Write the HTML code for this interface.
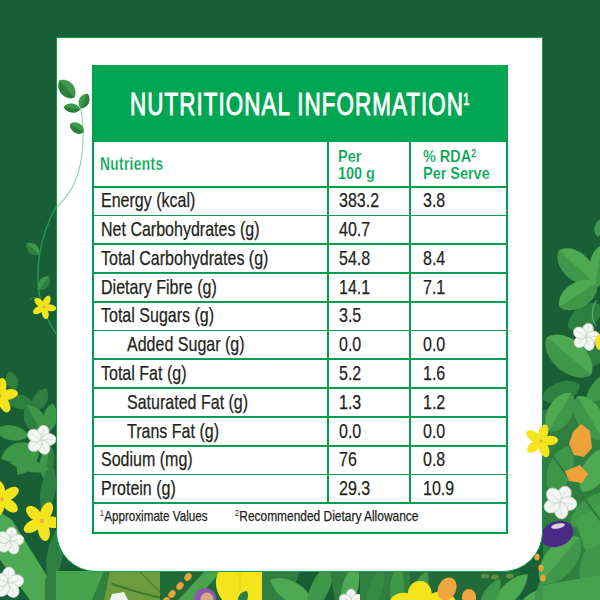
<!DOCTYPE html>
<html><head><meta charset="utf-8"><style>
html,body{margin:0;padding:0;}
body{width:600px;height:600px;overflow:hidden;position:relative;background:#185F36;font-family:"Liberation Sans",sans-serif;}
.bg{position:absolute;left:0;top:0;width:600px;height:600px;}
.panel{position:absolute;left:56px;top:37px;width:485px;height:533px;background:#fff;border:1px solid #0A9A45;border-radius:0 0 40px 40px;}
.hdr{position:absolute;left:92px;top:65px;width:416px;height:76.5px;background:#00A651;}
.title{position:absolute;left:129.8px;top:88.31px;font-size:32px;line-height:32px;color:#fff;white-space:nowrap;transform:scaleX(0.70);transform-origin:0 0;-webkit-text-stroke:1.0px #fff;letter-spacing:1.5px;}
.title sup{font-size:16px;vertical-align:0;position:relative;top:-10.5px;margin-left:-1px;-webkit-text-stroke:0.7px #fff;}
.t{position:absolute;white-space:nowrap;line-height:1;transform-origin:0 0;-webkit-text-stroke:0.25px #231F20;}
.t sup{font-size:60%;vertical-align:0;position:relative;top:-0.45em;font-weight:normal;-webkit-text-stroke:0.3px #00A651;}
.t sup.fn{font-size:58%;top:-0.62em;-webkit-text-stroke:0;margin-right:0.5px}
.hl{position:absolute;left:92px;width:416px;height:1.8px;background:#00A04E;}
.vl{position:absolute;width:1.9px;background:#00A04E;}
</style></head><body>
<svg class="bg" width="600" height="600" viewBox="0 0 600 600">
<path d="M57,205 C44,228 37,255 38,282 C39,305 48,322 57,335" fill="none" stroke="#2A9550" stroke-width="1.5" stroke-linecap="round"/>
<path transform="translate(33,249) rotate(42)" d="M-8.5,0 C-4.2,-6.7 4.2,-6.7 8.5,0 C4.2,6.7 -4.2,6.7 -8.5,0Z" fill="#3F9749"/>
<path transform="translate(33,249) rotate(42)" d="M-8.5,0 C-4.2,6.7 4.2,6.7 8.5,0Z" fill="#2F8040"/>
<path transform="translate(44,283) rotate(-55)" d="M-8.5,0 C-4.2,-6.7 4.2,-6.7 8.5,0 C4.2,6.7 -4.2,6.7 -8.5,0Z" fill="#3F9749"/>
<path transform="translate(44,283) rotate(-55)" d="M-8.5,0 C-4.2,6.7 4.2,6.7 8.5,0Z" fill="#2F8040"/>
<path d="M30,300 C33,296 38,297 40,301" fill="none" stroke="#3A9A4A" stroke-width="0.8" stroke-linecap="round"/>
<g transform="translate(44,307) rotate(25)"><path transform="rotate(0)" d="M0,0" fill="none"/><ellipse transform="rotate(0) translate(0,-6.3)" rx="3.4" ry="6.0" fill="#F4E41B"/><path transform="rotate(72)" d="M0,0" fill="none"/><ellipse transform="rotate(72) translate(0,-6.3)" rx="3.4" ry="6.0" fill="#F4E41B"/><path transform="rotate(144)" d="M0,0" fill="none"/><ellipse transform="rotate(144) translate(0,-6.3)" rx="3.4" ry="6.0" fill="#F4E41B"/><path transform="rotate(216)" d="M0,0" fill="none"/><ellipse transform="rotate(216) translate(0,-6.3)" rx="3.4" ry="6.0" fill="#F4E41B"/><path transform="rotate(288)" d="M0,0" fill="none"/><ellipse transform="rotate(288) translate(0,-6.3)" rx="3.4" ry="6.0" fill="#F4E41B"/><circle r="3.2" fill="#F4E41B"/><circle r="1.2" fill="#EDA43C"/></g>
<path transform="translate(12,381) rotate(70)" d="M-10.0,0 C-5.0,-8.0 5.0,-8.0 10.0,0 C5.0,8.0 -5.0,8.0 -10.0,0Z" fill="#2F8040"/>
<path transform="translate(20,402) rotate(10)" d="M-14.0,0 C-7.0,-9.3 7.0,-9.3 14.0,0 C7.0,9.3 -7.0,9.3 -14.0,0Z" fill="#2F8040"/>
<path transform="translate(18,452) rotate(-20)" d="M-18.0,0 C-9.0,-12.0 9.0,-12.0 18.0,0 C9.0,12.0 -9.0,12.0 -18.0,0Z" fill="#3F9749"/>
<path transform="translate(40,400) rotate(-60)" d="M-13.0,0 C-6.5,-9.3 6.5,-9.3 13.0,0 C6.5,9.3 -6.5,9.3 -13.0,0Z" fill="#2F8040"/>
<path transform="translate(12,433) rotate(10)" d="M-17.0,0 C-8.5,-10.0 8.5,-10.0 17.0,0 C8.5,10.0 -8.5,10.0 -17.0,0Z" fill="#3F9749"/>
<path transform="translate(35,420) rotate(60)" d="M-17.0,0 C-8.5,-13.3 8.5,-13.3 17.0,0 C8.5,13.3 -8.5,13.3 -17.0,0Z" fill="#3F9749"/>
<path transform="translate(35,420) rotate(60)" d="M-17.0,0 C-8.5,13.3 8.5,13.3 17.0,0Z" fill="#2F8040"/>
<path transform="translate(50,418) rotate(-80)" d="M-15.0,0 C-7.5,-9.3 7.5,-9.3 15.0,0 C7.5,9.3 -7.5,9.3 -15.0,0Z" fill="#3F9749"/>
<path transform="translate(28,460) rotate(-55)" d="M-18.0,0 C-9.0,-10.6 9.0,-10.6 18.0,0 C9.0,10.6 -9.0,10.6 -18.0,0Z" fill="#3F9749"/>
<path transform="translate(47,462) rotate(-80)" d="M-17.0,0 C-8.5,-9.3 8.5,-9.3 17.0,0 C8.5,9.3 -8.5,9.3 -17.0,0Z" fill="#3F9749"/>
<path transform="translate(47,462) rotate(-80)" d="M-17.0,0 C-8.5,9.3 8.5,9.3 17.0,0Z" fill="#2F8040"/>
<g transform="translate(0,396) rotate(8)"><path transform="rotate(0)" d="M0,0" fill="none"/><ellipse transform="rotate(0) translate(0,-9.4)" rx="5.1" ry="8.8" fill="#F4E41B"/><path transform="rotate(72)" d="M0,0" fill="none"/><ellipse transform="rotate(72) translate(0,-9.4)" rx="5.1" ry="8.8" fill="#F4E41B"/><path transform="rotate(144)" d="M0,0" fill="none"/><ellipse transform="rotate(144) translate(0,-9.4)" rx="5.1" ry="8.8" fill="#F4E41B"/><path transform="rotate(216)" d="M0,0" fill="none"/><ellipse transform="rotate(216) translate(0,-9.4)" rx="5.1" ry="8.8" fill="#F4E41B"/><path transform="rotate(288)" d="M0,0" fill="none"/><ellipse transform="rotate(288) translate(0,-9.4)" rx="5.1" ry="8.8" fill="#F4E41B"/><circle r="4.8" fill="#F4E41B"/><circle r="1.7" fill="#EDA43C"/></g>
<g transform="translate(41,440) rotate(15)"><path transform="rotate(0.0)" d="M0,0" fill="none"/><ellipse transform="rotate(0.0) translate(0,-7.8)" rx="6.0" ry="7.2" fill="#F3F6F3" stroke="#BFD0C3" stroke-width="0.8"/><path transform="rotate(72.0)" d="M0,0" fill="none"/><ellipse transform="rotate(72.0) translate(0,-7.8)" rx="6.0" ry="7.2" fill="#F3F6F3" stroke="#BFD0C3" stroke-width="0.8"/><path transform="rotate(144.0)" d="M0,0" fill="none"/><ellipse transform="rotate(144.0) translate(0,-7.8)" rx="6.0" ry="7.2" fill="#F3F6F3" stroke="#BFD0C3" stroke-width="0.8"/><path transform="rotate(216.0)" d="M0,0" fill="none"/><ellipse transform="rotate(216.0) translate(0,-7.8)" rx="6.0" ry="7.2" fill="#F3F6F3" stroke="#BFD0C3" stroke-width="0.8"/><path transform="rotate(288.0)" d="M0,0" fill="none"/><ellipse transform="rotate(288.0) translate(0,-7.8)" rx="6.0" ry="7.2" fill="#F3F6F3" stroke="#BFD0C3" stroke-width="0.8"/><path transform="rotate(0.0)" d="M0,0 L0,-12.0" stroke="#CFDCD2" stroke-width="0.7"/><path transform="rotate(72.0)" d="M0,0 L0,-12.0" stroke="#CFDCD2" stroke-width="0.7"/><path transform="rotate(144.0)" d="M0,0 L0,-12.0" stroke="#CFDCD2" stroke-width="0.7"/><path transform="rotate(216.0)" d="M0,0 L0,-12.0" stroke="#CFDCD2" stroke-width="0.7"/><path transform="rotate(288.0)" d="M0,0 L0,-12.0" stroke="#CFDCD2" stroke-width="0.7"/></g>
<path transform="translate(30,466) rotate(10)" d="M-20.0,0 C-10.0,-8.0 10.0,-8.0 20.0,0 C10.0,8.0 -10.0,8.0 -20.0,0Z" fill="#3F9749"/>
<path transform="translate(48,490) rotate(-80)" d="M-25.0,0 C-12.5,-10.0 12.5,-10.0 25.0,0 C12.5,10.0 -12.5,10.0 -25.0,0Z" fill="#2F8040"/>
<polygon points="0,512 12,520 62,600 30,600 0,560" fill="#4DA952"/>
<path transform="translate(55,555) rotate(-80)" d="M-30.0,0 C-15.0,-10.6 15.0,-10.6 30.0,0 C15.0,10.6 -15.0,10.6 -30.0,0Z" fill="#2F8040"/>
<polygon points="45,580 56,560 60,600 45,600" fill="#2F8040"/>
<g transform="translate(2,499) rotate(-15)"><path transform="rotate(0)" d="M0,0" fill="none"/><ellipse transform="rotate(0) translate(0,-9.9)" rx="5.4" ry="9.4" fill="#F4E41B"/><path transform="rotate(72)" d="M0,0" fill="none"/><ellipse transform="rotate(72) translate(0,-9.9)" rx="5.4" ry="9.4" fill="#F4E41B"/><path transform="rotate(144)" d="M0,0" fill="none"/><ellipse transform="rotate(144) translate(0,-9.9)" rx="5.4" ry="9.4" fill="#F4E41B"/><path transform="rotate(216)" d="M0,0" fill="none"/><ellipse transform="rotate(216) translate(0,-9.9)" rx="5.4" ry="9.4" fill="#F4E41B"/><path transform="rotate(288)" d="M0,0" fill="none"/><ellipse transform="rotate(288) translate(0,-9.9)" rx="5.4" ry="9.4" fill="#F4E41B"/><circle r="5.0" fill="#F4E41B"/><circle r="1.8" fill="#EDA43C"/></g>
<g transform="translate(42,521) rotate(25)"><path transform="rotate(0)" d="M0,0" fill="none"/><ellipse transform="rotate(0) translate(0,-10.5)" rx="5.7" ry="9.9" fill="#F4E41B"/><path transform="rotate(72)" d="M0,0" fill="none"/><ellipse transform="rotate(72) translate(0,-10.5)" rx="5.7" ry="9.9" fill="#F4E41B"/><path transform="rotate(144)" d="M0,0" fill="none"/><ellipse transform="rotate(144) translate(0,-10.5)" rx="5.7" ry="9.9" fill="#F4E41B"/><path transform="rotate(216)" d="M0,0" fill="none"/><ellipse transform="rotate(216) translate(0,-10.5)" rx="5.7" ry="9.9" fill="#F4E41B"/><path transform="rotate(288)" d="M0,0" fill="none"/><ellipse transform="rotate(288) translate(0,-10.5)" rx="5.7" ry="9.9" fill="#F4E41B"/><circle r="5.3" fill="#F4E41B"/><circle r="1.9" fill="#EDA43C"/></g>
<g transform="translate(10,541) rotate(10)"><path transform="rotate(0.0)" d="M0,0" fill="none"/><ellipse transform="rotate(0.0) translate(0,-7.3)" rx="5.6" ry="6.7" fill="#F3F6F3" stroke="#BFD0C3" stroke-width="0.8"/><path transform="rotate(72.0)" d="M0,0" fill="none"/><ellipse transform="rotate(72.0) translate(0,-7.3)" rx="5.6" ry="6.7" fill="#F3F6F3" stroke="#BFD0C3" stroke-width="0.8"/><path transform="rotate(144.0)" d="M0,0" fill="none"/><ellipse transform="rotate(144.0) translate(0,-7.3)" rx="5.6" ry="6.7" fill="#F3F6F3" stroke="#BFD0C3" stroke-width="0.8"/><path transform="rotate(216.0)" d="M0,0" fill="none"/><ellipse transform="rotate(216.0) translate(0,-7.3)" rx="5.6" ry="6.7" fill="#F3F6F3" stroke="#BFD0C3" stroke-width="0.8"/><path transform="rotate(288.0)" d="M0,0" fill="none"/><ellipse transform="rotate(288.0) translate(0,-7.3)" rx="5.6" ry="6.7" fill="#F3F6F3" stroke="#BFD0C3" stroke-width="0.8"/><path transform="rotate(0.0)" d="M0,0 L0,-11.2" stroke="#CFDCD2" stroke-width="0.7"/><path transform="rotate(72.0)" d="M0,0 L0,-11.2" stroke="#CFDCD2" stroke-width="0.7"/><path transform="rotate(144.0)" d="M0,0 L0,-11.2" stroke="#CFDCD2" stroke-width="0.7"/><path transform="rotate(216.0)" d="M0,0 L0,-11.2" stroke="#CFDCD2" stroke-width="0.7"/><path transform="rotate(288.0)" d="M0,0 L0,-11.2" stroke="#CFDCD2" stroke-width="0.7"/></g>
<g transform="translate(8,583) rotate(5)"><path transform="rotate(0.0)" d="M0,0" fill="none"/><ellipse transform="rotate(0.0) translate(0,-8.3)" rx="6.4" ry="7.7" fill="#F3F6F3" stroke="#BFD0C3" stroke-width="0.8"/><path transform="rotate(72.0)" d="M0,0" fill="none"/><ellipse transform="rotate(72.0) translate(0,-8.3)" rx="6.4" ry="7.7" fill="#F3F6F3" stroke="#BFD0C3" stroke-width="0.8"/><path transform="rotate(144.0)" d="M0,0" fill="none"/><ellipse transform="rotate(144.0) translate(0,-8.3)" rx="6.4" ry="7.7" fill="#F3F6F3" stroke="#BFD0C3" stroke-width="0.8"/><path transform="rotate(216.0)" d="M0,0" fill="none"/><ellipse transform="rotate(216.0) translate(0,-8.3)" rx="6.4" ry="7.7" fill="#F3F6F3" stroke="#BFD0C3" stroke-width="0.8"/><path transform="rotate(288.0)" d="M0,0" fill="none"/><ellipse transform="rotate(288.0) translate(0,-8.3)" rx="6.4" ry="7.7" fill="#F3F6F3" stroke="#BFD0C3" stroke-width="0.8"/><path transform="rotate(0.0)" d="M0,0 L0,-12.8" stroke="#CFDCD2" stroke-width="0.7"/><path transform="rotate(72.0)" d="M0,0 L0,-12.8" stroke="#CFDCD2" stroke-width="0.7"/><path transform="rotate(144.0)" d="M0,0 L0,-12.8" stroke="#CFDCD2" stroke-width="0.7"/><path transform="rotate(216.0)" d="M0,0 L0,-12.8" stroke="#CFDCD2" stroke-width="0.7"/><path transform="rotate(288.0)" d="M0,0 L0,-12.8" stroke="#CFDCD2" stroke-width="0.7"/></g>
<polygon points="56,571 112,571 98,600 56,600" fill="#46A24B"/>
<polygon points="104,571 112,571 108,600 92,600" fill="#2F8040"/>
<polygon points="110,571 165,571 160,600 104,600" fill="#6C9C3E"/>
<path d="M112,584 C130,590 148,595 162,598" fill="none" stroke="#3E7A2E" stroke-width="2" stroke-linecap="round"/>
<path d="M140,572 C148,580 155,588 160,592" fill="none" stroke="#4C8634" stroke-width="1.5" stroke-linecap="round"/>
<polygon points="112,594 124,592 128,600 110,600" fill="#EEF2EE"/>
<polygon points="160,571 220,571 218,600 160,600" fill="#216B36"/>
<polygon points="205,571 222,571 195,600 178,600" fill="#49A34C"/>
<ellipse transform="translate(188,577) rotate(35)" rx="3.2" ry="4.2" fill="#EFA23A"/>
<ellipse transform="translate(180,586) rotate(35)" rx="3.2" ry="4.2" fill="#EFA23A"/>
<ellipse transform="translate(172,594) rotate(35)" rx="3.2" ry="4.2" fill="#EFA23A"/>
<ellipse transform="translate(166,601) rotate(35)" rx="3.2" ry="4.2" fill="#EFA23A"/>
<ellipse transform="translate(205,598) rotate(0)" rx="11" ry="10" fill="#8A5BAA"/>
<ellipse transform="translate(207,599) rotate(0)" rx="6.5" ry="6.5" fill="#D6A985"/>
<path d="M219,571 L263,571 C269,580 268,592 263,600 L222,600 C215,590 214,580 219,571Z" fill="#F4E41B"/>
<path d="M240,572 L240,590" fill="none" stroke="#E3CF17" stroke-width="1" stroke-linecap="round"/>
<path transform="translate(243,598) rotate(-60)" d="M-8.0,0 C-4.0,-6.0 4.0,-6.0 8.0,0 C4.0,6.0 -4.0,6.0 -8.0,0Z" fill="#2F8040"/>
<polygon points="262,571 300,571 290,600 262,600" fill="#2F8040"/>
<path transform="translate(292,592) rotate(30)" d="M-25.0,0 C-12.5,-13.3 12.5,-13.3 25.0,0 C12.5,13.3 -12.5,13.3 -25.0,0Z" fill="#4DA952"/>
<path transform="translate(320,588) rotate(-65)" d="M-30.0,0 C-15.0,-12.0 15.0,-12.0 30.0,0 C15.0,12.0 -15.0,12.0 -30.0,0Z" fill="#3F9749"/>
<polygon points="330,571 360,571 355,600 335,600" fill="#2F8040"/>
<path transform="translate(350,588) rotate(-75)" d="M-25.0,0 C-12.5,-10.6 12.5,-10.6 25.0,0 C12.5,10.6 -12.5,10.6 -25.0,0Z" fill="#4DA952"/>
<g transform="translate(351,601) rotate(0)"><path transform="rotate(0.0)" d="M0,0" fill="none"/><ellipse transform="rotate(0.0) translate(0,-6.2)" rx="4.8" ry="5.8" fill="#F3F6F3" stroke="#BFD0C3" stroke-width="0.8"/><path transform="rotate(72.0)" d="M0,0" fill="none"/><ellipse transform="rotate(72.0) translate(0,-6.2)" rx="4.8" ry="5.8" fill="#F3F6F3" stroke="#BFD0C3" stroke-width="0.8"/><path transform="rotate(144.0)" d="M0,0" fill="none"/><ellipse transform="rotate(144.0) translate(0,-6.2)" rx="4.8" ry="5.8" fill="#F3F6F3" stroke="#BFD0C3" stroke-width="0.8"/><path transform="rotate(216.0)" d="M0,0" fill="none"/><ellipse transform="rotate(216.0) translate(0,-6.2)" rx="4.8" ry="5.8" fill="#F3F6F3" stroke="#BFD0C3" stroke-width="0.8"/><path transform="rotate(288.0)" d="M0,0" fill="none"/><ellipse transform="rotate(288.0) translate(0,-6.2)" rx="4.8" ry="5.8" fill="#F3F6F3" stroke="#BFD0C3" stroke-width="0.8"/><path transform="rotate(0.0)" d="M0,0 L0,-9.6" stroke="#CFDCD2" stroke-width="0.7"/><path transform="rotate(72.0)" d="M0,0 L0,-9.6" stroke="#CFDCD2" stroke-width="0.7"/><path transform="rotate(144.0)" d="M0,0 L0,-9.6" stroke="#CFDCD2" stroke-width="0.7"/><path transform="rotate(216.0)" d="M0,0 L0,-9.6" stroke="#CFDCD2" stroke-width="0.7"/><path transform="rotate(288.0)" d="M0,0 L0,-9.6" stroke="#CFDCD2" stroke-width="0.7"/></g>
<polygon points="360,571 410,571 410,600 360,600" fill="#2F8040"/>
<path transform="translate(397,588) rotate(-85)" d="M-23.0,0 C-11.5,-9.3 11.5,-9.3 23.0,0 C11.5,9.3 -11.5,9.3 -23.0,0Z" fill="#3F9749"/>
<path transform="translate(375,590) rotate(-70)" d="M-23.0,0 C-11.5,-9.3 11.5,-9.3 23.0,0 C11.5,9.3 -11.5,9.3 -23.0,0Z" fill="#368A43"/>
<polygon points="410,571 460,571 460,600 410,600" fill="#216B36"/>
<path transform="translate(420,590) rotate(-70)" d="M-20.0,0 C-10.0,-9.3 10.0,-9.3 20.0,0 C10.0,9.3 -10.0,9.3 -20.0,0Z" fill="#3F9749"/>
<path d="M408,600 C406,588 412,581 420,581 C428,581 433,588 432,600Z" fill="#F4E41B"/>
<ellipse transform="translate(402,600) rotate(-10)" rx="12" ry="7" fill="#F4E41B"/>
<ellipse transform="translate(442,601) rotate(10)" rx="14" ry="9" fill="#F4E41B"/>
<ellipse transform="translate(447,589) rotate(25)" rx="9" ry="12" fill="#F0A640"/>
<polygon points="460,571 520,571 520,600 460,600" fill="#216B36"/>
<ellipse transform="translate(469,597) rotate(0)" rx="7" ry="8" fill="#F0A640"/>
<path transform="translate(510,592) rotate(-45)" d="M-25.0,0 C-12.5,-12.0 12.5,-12.0 25.0,0 C12.5,12.0 -12.5,12.0 -25.0,0Z" fill="#4DA952"/>
<path transform="translate(490,596) rotate(-60)" d="M-20.0,0 C-10.0,-9.3 10.0,-9.3 20.0,0 C10.0,9.3 -10.0,9.3 -20.0,0Z" fill="#3F9749"/>
<path transform="translate(535,600) rotate(-30)" d="M-20.0,0 C-10.0,-10.6 10.0,-10.6 20.0,0 C10.0,10.6 -10.0,10.6 -20.0,0Z" fill="#4DA952"/>
<path transform="translate(545,590) rotate(-70)" d="M-25.0,0 C-12.5,-10.6 12.5,-10.6 25.0,0 C12.5,10.6 -12.5,10.6 -25.0,0Z" fill="#3F9749"/>
<ellipse transform="translate(485,576) rotate(0)" rx="4" ry="2.5" fill="#5E8C3C"/>
<ellipse transform="translate(495,577) rotate(0)" rx="4" ry="2.5" fill="#5E8C3C"/>
<ellipse transform="translate(510,576) rotate(0)" rx="4" ry="2.5" fill="#5E8C3C"/>
<path transform="translate(599,228) rotate(-80)" d="M-9.0,0 C-4.5,-6.0 4.5,-6.0 9.0,0 C4.5,6.0 -4.5,6.0 -9.0,0Z" fill="#3F9749"/>
<path transform="translate(598,267) rotate(-80)" d="M-22.0,0 C-16.5,-12.0 16.5,-12.0 22.0,0 C16.5,12.0 -16.5,12.0 -22.0,0Z" fill="#4DA952"/>
<path transform="translate(598,267) rotate(-80)" d="M-22.0,0 C-16.5,12.0 16.5,12.0 22.0,0Z" fill="#3F9749"/>
<path transform="translate(576,266) rotate(43)" d="M-23.0,0 C-17.2,-18.0 17.2,-18.0 23.0,0 C17.2,18.0 -17.2,18.0 -23.0,0Z" fill="#4DA952"/>
<path transform="translate(576,266) rotate(43)" d="M-23.0,0 C-17.2,18.0 17.2,18.0 23.0,0Z" fill="#3F9749"/>
<path transform="translate(585,317) rotate(-35)" d="M-20.0,0 C-15.0,-14.6 15.0,-14.6 20.0,0 C15.0,14.6 -15.0,14.6 -20.0,0Z" fill="#2F8040"/>
<path transform="translate(578,295) rotate(-32)" d="M-22.0,0 C-16.5,-16.6 16.5,-16.6 22.0,0 C16.5,16.6 -16.5,16.6 -22.0,0Z" fill="#4DA952"/>
<path transform="translate(578,295) rotate(-32)" d="M-22.0,0 C-16.5,16.6 16.5,16.6 22.0,0Z" fill="#3F9749"/>
<path d="M596,301 C591,310 591,318 596,326" fill="none" stroke="#6CC07A" stroke-width="0.9" stroke-linecap="round"/>
<path transform="translate(590,358) rotate(-20)" d="M-18.0,0 C-13.5,-12.0 13.5,-12.0 18.0,0 C13.5,12.0 -13.5,12.0 -18.0,0Z" fill="#2F8040"/>
<path transform="translate(569,356) rotate(40)" d="M-29.0,0 C-21.8,-21.3 21.8,-21.3 29.0,0 C21.8,21.3 -21.8,21.3 -29.0,0Z" fill="#4DA952"/>
<path transform="translate(569,356) rotate(40)" d="M-29.0,0 C-21.8,21.3 21.8,21.3 29.0,0Z" fill="#3F9749"/>
<path transform="translate(598,392) rotate(-60)" d="M-20.0,0 C-15.0,-12.0 15.0,-12.0 20.0,0 C15.0,12.0 -15.0,12.0 -20.0,0Z" fill="#3F9749"/>
<path transform="translate(561,392) rotate(-20)" d="M-20.0,0 C-15.0,-13.3 15.0,-13.3 20.0,0 C15.0,13.3 -15.0,13.3 -20.0,0Z" fill="#2F8040"/>
<polygon points="543,410 600,400 600,600 543,600" fill="#2F8040"/>
<path transform="translate(560,412) rotate(-60)" d="M-22.0,0 C-16.5,-16.0 16.5,-16.0 22.0,0 C16.5,16.0 -16.5,16.0 -22.0,0Z" fill="#4DA952"/>
<path transform="translate(560,412) rotate(-60)" d="M-22.0,0 C-16.5,16.0 16.5,16.0 22.0,0Z" fill="#3F9749"/>
<path transform="translate(590,418) rotate(60)" d="M-25.0,0 C-18.8,-17.3 18.8,-17.3 25.0,0 C18.8,17.3 -18.8,17.3 -25.0,0Z" fill="#4DA952"/>
<path transform="translate(590,418) rotate(60)" d="M-25.0,0 C-18.8,17.3 18.8,17.3 25.0,0Z" fill="#3F9749"/>
<path transform="translate(560,470) rotate(-70)" d="M-25.0,0 C-17.5,-16.0 17.5,-16.0 25.0,0 C17.5,16.0 -17.5,16.0 -25.0,0Z" fill="#3F9749"/>
<path transform="translate(595,470) rotate(-60)" d="M-25.0,0 C-17.5,-16.0 17.5,-16.0 25.0,0 C17.5,16.0 -17.5,16.0 -25.0,0Z" fill="#4DA952"/>
<path transform="translate(590,510) rotate(-40)" d="M-25.0,0 C-17.5,-14.6 17.5,-14.6 25.0,0 C17.5,14.6 -17.5,14.6 -25.0,0Z" fill="#3F9749"/>
<path transform="translate(560,560) rotate(-50)" d="M-30.0,0 C-21.0,-20.0 21.0,-20.0 30.0,0 C21.0,20.0 -21.0,20.0 -30.0,0Z" fill="#4DA952"/>
<path transform="translate(560,560) rotate(-50)" d="M-30.0,0 C-21.0,20.0 21.0,20.0 30.0,0Z" fill="#3F9749"/>
<path transform="translate(595,560) rotate(-70)" d="M-30.0,0 C-21.0,-17.3 21.0,-17.3 30.0,0 C21.0,17.3 -21.0,17.3 -30.0,0Z" fill="#3F9749"/>
<polygon points="575,520 600,505 600,545 585,550" fill="#45A24C"/>
<polygon points="543,585 600,575 600,600 543,600" fill="#45A24C"/>
<path d="M548,450 L600,520" fill="none" stroke="#2A7A3B" stroke-width="2" stroke-linecap="round"/>
<g transform="translate(586,337) rotate(15)"><path transform="rotate(0.0)" d="M0,0" fill="none"/><ellipse transform="rotate(0.0) translate(0,-7.3)" rx="5.6" ry="6.7" fill="#F3F6F3" stroke="#BFD0C3" stroke-width="0.8"/><path transform="rotate(72.0)" d="M0,0" fill="none"/><ellipse transform="rotate(72.0) translate(0,-7.3)" rx="5.6" ry="6.7" fill="#F3F6F3" stroke="#BFD0C3" stroke-width="0.8"/><path transform="rotate(144.0)" d="M0,0" fill="none"/><ellipse transform="rotate(144.0) translate(0,-7.3)" rx="5.6" ry="6.7" fill="#F3F6F3" stroke="#BFD0C3" stroke-width="0.8"/><path transform="rotate(216.0)" d="M0,0" fill="none"/><ellipse transform="rotate(216.0) translate(0,-7.3)" rx="5.6" ry="6.7" fill="#F3F6F3" stroke="#BFD0C3" stroke-width="0.8"/><path transform="rotate(288.0)" d="M0,0" fill="none"/><ellipse transform="rotate(288.0) translate(0,-7.3)" rx="5.6" ry="6.7" fill="#F3F6F3" stroke="#BFD0C3" stroke-width="0.8"/><path transform="rotate(0.0)" d="M0,0 L0,-11.2" stroke="#CFDCD2" stroke-width="0.7"/><path transform="rotate(72.0)" d="M0,0 L0,-11.2" stroke="#CFDCD2" stroke-width="0.7"/><path transform="rotate(144.0)" d="M0,0 L0,-11.2" stroke="#CFDCD2" stroke-width="0.7"/><path transform="rotate(216.0)" d="M0,0 L0,-11.2" stroke="#CFDCD2" stroke-width="0.7"/><path transform="rotate(288.0)" d="M0,0 L0,-11.2" stroke="#CFDCD2" stroke-width="0.7"/></g>
<ellipse transform="translate(600,342) rotate(0)" rx="5" ry="8" fill="#F4E41B"/>
<path d="M573,432 L581,424 L590,431 L592,448 L584,457 L574,455 L569,444Z" fill="#EFA23A"/>
<path d="M565,471 L580,465 L588,474 L582,483 L569,481Z" fill="#EFA23A"/>
<ellipse transform="translate(537,557) rotate(0)" rx="2.6" ry="3.4" fill="#EFA23A"/>
<ellipse transform="translate(541,568) rotate(0)" rx="2.6" ry="3.4" fill="#EFA23A"/>
<ellipse transform="translate(543,578) rotate(0)" rx="2.6" ry="3.4" fill="#EFA23A"/>
<g transform="translate(560,502) rotate(28)"><path transform="rotate(0.0)" d="M0,0" fill="none"/><ellipse transform="rotate(0.0) translate(0,-8.8)" rx="6.8" ry="8.2" fill="#F3F6F3" stroke="#BFD0C3" stroke-width="0.8"/><path transform="rotate(72.0)" d="M0,0" fill="none"/><ellipse transform="rotate(72.0) translate(0,-8.8)" rx="6.8" ry="8.2" fill="#F3F6F3" stroke="#BFD0C3" stroke-width="0.8"/><path transform="rotate(144.0)" d="M0,0" fill="none"/><ellipse transform="rotate(144.0) translate(0,-8.8)" rx="6.8" ry="8.2" fill="#F3F6F3" stroke="#BFD0C3" stroke-width="0.8"/><path transform="rotate(216.0)" d="M0,0" fill="none"/><ellipse transform="rotate(216.0) translate(0,-8.8)" rx="6.8" ry="8.2" fill="#F3F6F3" stroke="#BFD0C3" stroke-width="0.8"/><path transform="rotate(288.0)" d="M0,0" fill="none"/><ellipse transform="rotate(288.0) translate(0,-8.8)" rx="6.8" ry="8.2" fill="#F3F6F3" stroke="#BFD0C3" stroke-width="0.8"/><path transform="rotate(0.0)" d="M0,0 L0,-13.6" stroke="#CFDCD2" stroke-width="0.7"/><path transform="rotate(72.0)" d="M0,0 L0,-13.6" stroke="#CFDCD2" stroke-width="0.7"/><path transform="rotate(144.0)" d="M0,0 L0,-13.6" stroke="#CFDCD2" stroke-width="0.7"/><path transform="rotate(216.0)" d="M0,0 L0,-13.6" stroke="#CFDCD2" stroke-width="0.7"/><path transform="rotate(288.0)" d="M0,0 L0,-13.6" stroke="#CFDCD2" stroke-width="0.7"/></g>
<ellipse transform="translate(557,534) rotate(-22)" rx="17" ry="12.5" fill="#4B2A86"/>
<ellipse transform="translate(558,526) rotate(-12)" rx="7" ry="2.5" fill="#D9D2EA"/>
</svg>
<div class="panel"></div>
<svg class="bg" width="600" height="600" viewBox="0 0 600 600">
<path d="M80,104 C84,125 84,150 79,170 C74,188 66,198 57,207" fill="none" stroke="#8FD6A8" stroke-width="1.1" stroke-linecap="round"/>
<path transform="translate(67,89) rotate(50)" d="M-11.5,0 C-6.9,-9.6 6.9,-9.6 11.5,0 C6.9,9.6 -6.9,9.6 -11.5,0Z" fill="#3E9A4A"/>
<path transform="translate(67,89) rotate(50)" d="M-11.5,0 C-6.9,9.6 6.9,9.6 11.5,0Z" fill="#2F7F3C"/>
<path transform="translate(84,101) rotate(-65)" d="M-8.0,0 C-4.8,-6.7 4.8,-6.7 8.0,0 C4.8,6.7 -4.8,6.7 -8.0,0Z" fill="#3E9A4A"/>
<path transform="translate(84,101) rotate(-65)" d="M-8.0,0 C-4.8,6.7 4.8,6.7 8.0,0Z" fill="#2F7F3C"/>
<path transform="translate(72,108) rotate(8)" d="M-8.5,0 C-5.1,-6.0 5.1,-6.0 8.5,0 C5.1,6.0 -5.1,6.0 -8.5,0Z" fill="#3E9A4A"/>
<path transform="translate(72,108) rotate(8)" d="M-8.5,0 C-5.1,6.0 5.1,6.0 8.5,0Z" fill="#2F7F3C"/>
<path transform="translate(77,128) rotate(32)" d="M-8.0,0 C-4.8,-6.7 4.8,-6.7 8.0,0 C4.8,6.7 -4.8,6.7 -8.0,0Z" fill="#3E9A4A"/>
<path transform="translate(77,128) rotate(32)" d="M-8.0,0 C-4.8,6.7 4.8,6.7 8.0,0Z" fill="#2F7F3C"/>
<g transform="translate(541,441) rotate(15)"><path transform="rotate(0)" d="M0,0" fill="none"/><ellipse transform="rotate(0) translate(0,-8.8)" rx="4.8" ry="8.3" fill="#F4E41B"/><path transform="rotate(72)" d="M0,0" fill="none"/><ellipse transform="rotate(72) translate(0,-8.8)" rx="4.8" ry="8.3" fill="#F4E41B"/><path transform="rotate(144)" d="M0,0" fill="none"/><ellipse transform="rotate(144) translate(0,-8.8)" rx="4.8" ry="8.3" fill="#F4E41B"/><path transform="rotate(216)" d="M0,0" fill="none"/><ellipse transform="rotate(216) translate(0,-8.8)" rx="4.8" ry="8.3" fill="#F4E41B"/><path transform="rotate(288)" d="M0,0" fill="none"/><ellipse transform="rotate(288) translate(0,-8.8)" rx="4.8" ry="8.3" fill="#F4E41B"/><circle r="4.5" fill="#F4E41B"/><circle r="1.6" fill="#EDA43C"/></g>
</svg>
<div class="hdr"></div>
<div class="title">NUTRITIONAL INFORMATION<sup>1</sup></div>
<div class="hl" style="top:185.80px"></div>
<div class="hl" style="top:214.58px"></div>
<div class="hl" style="top:243.36px"></div>
<div class="hl" style="top:272.14px"></div>
<div class="hl" style="top:300.92px"></div>
<div class="hl" style="top:329.70px"></div>
<div class="hl" style="top:358.48px"></div>
<div class="hl" style="top:387.26px"></div>
<div class="hl" style="top:416.04px"></div>
<div class="hl" style="top:444.82px"></div>
<div class="hl" style="top:473.60px"></div>
<div class="hl" style="top:502.38px"></div>
<div class="hl" style="top:532.10px"></div>
<div class="vl" style="left:92.05px;top:65px;height:468.90px"></div>
<div class="vl" style="left:326.65px;top:141px;height:362.30px"></div>
<div class="vl" style="left:408.85px;top:141px;height:362.30px"></div>
<div class="vl" style="left:506.05px;top:65px;height:468.90px"></div>
<div class="t" style="left:99.80px;top:155.24px;font-size:18.5px;transform:scaleX(0.74);color:#00A651;font-weight:bold;-webkit-text-stroke-color:#00A651;letter-spacing:0.5px;-webkit-text-stroke:0.25px #fff;">Nutrients</div>
<div class="t" style="left:338.30px;top:147.51px;font-size:17px;transform:scaleX(0.85);color:#00A651;font-weight:bold;-webkit-text-stroke-color:#00A651;-webkit-text-stroke:0.2px #fff;">Per</div>
<div class="t" style="left:338.30px;top:165.11px;font-size:17px;transform:scaleX(0.85);color:#00A651;font-weight:bold;-webkit-text-stroke-color:#00A651;-webkit-text-stroke:0.2px #fff;">100 g</div>
<div class="t" style="left:423.20px;top:147.51px;font-size:17px;transform:scaleX(0.85);color:#00A651;font-weight:bold;-webkit-text-stroke-color:#00A651;-webkit-text-stroke:0.2px #fff;">% RDA<sup>2</sup></div>
<div class="t" style="left:423.20px;top:165.11px;font-size:17px;transform:scaleX(0.85);color:#00A651;font-weight:bold;-webkit-text-stroke-color:#00A651;-webkit-text-stroke:0.2px #fff;">Per Serve</div>
<div class="t" style="left:100.90px;top:189.32px;font-size:21px;transform:scaleX(0.763);color:#231F20;font-weight:normal;-webkit-text-stroke-color:#231F20;">Energy (kcal)</div>
<div class="t" style="left:339.20px;top:189.32px;font-size:21px;transform:scaleX(0.763);color:#231F20;font-weight:normal;-webkit-text-stroke-color:#231F20;">383.2</div>
<div class="t" style="left:423.40px;top:189.32px;font-size:21px;transform:scaleX(0.763);color:#231F20;font-weight:normal;-webkit-text-stroke-color:#231F20;">3.8</div>
<div class="t" style="left:100.90px;top:218.10px;font-size:21px;transform:scaleX(0.763);color:#231F20;font-weight:normal;-webkit-text-stroke-color:#231F20;">Net Carbohydrates (g)</div>
<div class="t" style="left:339.20px;top:218.10px;font-size:21px;transform:scaleX(0.763);color:#231F20;font-weight:normal;-webkit-text-stroke-color:#231F20;">40.7</div>
<div class="t" style="left:100.90px;top:246.88px;font-size:21px;transform:scaleX(0.763);color:#231F20;font-weight:normal;-webkit-text-stroke-color:#231F20;">Total Carbohydrates (g)</div>
<div class="t" style="left:339.20px;top:246.88px;font-size:21px;transform:scaleX(0.763);color:#231F20;font-weight:normal;-webkit-text-stroke-color:#231F20;">54.8</div>
<div class="t" style="left:423.40px;top:246.88px;font-size:21px;transform:scaleX(0.763);color:#231F20;font-weight:normal;-webkit-text-stroke-color:#231F20;">8.4</div>
<div class="t" style="left:100.90px;top:275.66px;font-size:21px;transform:scaleX(0.763);color:#231F20;font-weight:normal;-webkit-text-stroke-color:#231F20;">Dietary Fibre (g)</div>
<div class="t" style="left:339.20px;top:275.66px;font-size:21px;transform:scaleX(0.763);color:#231F20;font-weight:normal;-webkit-text-stroke-color:#231F20;">14.1</div>
<div class="t" style="left:423.40px;top:275.66px;font-size:21px;transform:scaleX(0.763);color:#231F20;font-weight:normal;-webkit-text-stroke-color:#231F20;">7.1</div>
<div class="t" style="left:100.90px;top:304.44px;font-size:21px;transform:scaleX(0.763);color:#231F20;font-weight:normal;-webkit-text-stroke-color:#231F20;">Total Sugars (g)</div>
<div class="t" style="left:339.20px;top:304.44px;font-size:21px;transform:scaleX(0.763);color:#231F20;font-weight:normal;-webkit-text-stroke-color:#231F20;">3.5</div>
<div class="t" style="left:126.80px;top:333.22px;font-size:21px;transform:scaleX(0.763);color:#231F20;font-weight:normal;-webkit-text-stroke-color:#231F20;">Added Sugar (g)</div>
<div class="t" style="left:339.20px;top:333.22px;font-size:21px;transform:scaleX(0.763);color:#231F20;font-weight:normal;-webkit-text-stroke-color:#231F20;">0.0</div>
<div class="t" style="left:423.40px;top:333.22px;font-size:21px;transform:scaleX(0.763);color:#231F20;font-weight:normal;-webkit-text-stroke-color:#231F20;">0.0</div>
<div class="t" style="left:100.90px;top:362.00px;font-size:21px;transform:scaleX(0.763);color:#231F20;font-weight:normal;-webkit-text-stroke-color:#231F20;">Total Fat (g)</div>
<div class="t" style="left:339.20px;top:362.00px;font-size:21px;transform:scaleX(0.763);color:#231F20;font-weight:normal;-webkit-text-stroke-color:#231F20;">5.2</div>
<div class="t" style="left:423.40px;top:362.00px;font-size:21px;transform:scaleX(0.763);color:#231F20;font-weight:normal;-webkit-text-stroke-color:#231F20;">1.6</div>
<div class="t" style="left:126.80px;top:390.78px;font-size:21px;transform:scaleX(0.763);color:#231F20;font-weight:normal;-webkit-text-stroke-color:#231F20;">Saturated Fat (g)</div>
<div class="t" style="left:339.20px;top:390.78px;font-size:21px;transform:scaleX(0.763);color:#231F20;font-weight:normal;-webkit-text-stroke-color:#231F20;">1.3</div>
<div class="t" style="left:423.40px;top:390.78px;font-size:21px;transform:scaleX(0.763);color:#231F20;font-weight:normal;-webkit-text-stroke-color:#231F20;">1.2</div>
<div class="t" style="left:126.80px;top:419.56px;font-size:21px;transform:scaleX(0.763);color:#231F20;font-weight:normal;-webkit-text-stroke-color:#231F20;">Trans Fat (g)</div>
<div class="t" style="left:339.20px;top:419.56px;font-size:21px;transform:scaleX(0.763);color:#231F20;font-weight:normal;-webkit-text-stroke-color:#231F20;">0.0</div>
<div class="t" style="left:423.40px;top:419.56px;font-size:21px;transform:scaleX(0.763);color:#231F20;font-weight:normal;-webkit-text-stroke-color:#231F20;">0.0</div>
<div class="t" style="left:100.90px;top:448.34px;font-size:21px;transform:scaleX(0.763);color:#231F20;font-weight:normal;-webkit-text-stroke-color:#231F20;">Sodium (mg)</div>
<div class="t" style="left:339.20px;top:448.34px;font-size:21px;transform:scaleX(0.763);color:#231F20;font-weight:normal;-webkit-text-stroke-color:#231F20;">76</div>
<div class="t" style="left:423.40px;top:448.34px;font-size:21px;transform:scaleX(0.763);color:#231F20;font-weight:normal;-webkit-text-stroke-color:#231F20;">0.8</div>
<div class="t" style="left:100.90px;top:477.12px;font-size:21px;transform:scaleX(0.763);color:#231F20;font-weight:normal;-webkit-text-stroke-color:#231F20;">Protein (g)</div>
<div class="t" style="left:339.20px;top:477.12px;font-size:21px;transform:scaleX(0.763);color:#231F20;font-weight:normal;-webkit-text-stroke-color:#231F20;">29.3</div>
<div class="t" style="left:423.40px;top:477.12px;font-size:21px;transform:scaleX(0.763);color:#231F20;font-weight:normal;-webkit-text-stroke-color:#231F20;">10.9</div>
<div class="t" style="left:99.60px;top:508.80px;font-size:14.3px;transform:scaleX(0.815);color:#231F20;font-weight:normal;-webkit-text-stroke-color:#231F20;"><sup class=fn>1</sup>Approximate Values</div>
<div class="t" style="left:234.60px;top:508.80px;font-size:14.3px;transform:scaleX(0.835);color:#231F20;font-weight:normal;-webkit-text-stroke-color:#231F20;"><sup class=fn>2</sup>Recommended Dietary Allowance</div>
</body></html>
